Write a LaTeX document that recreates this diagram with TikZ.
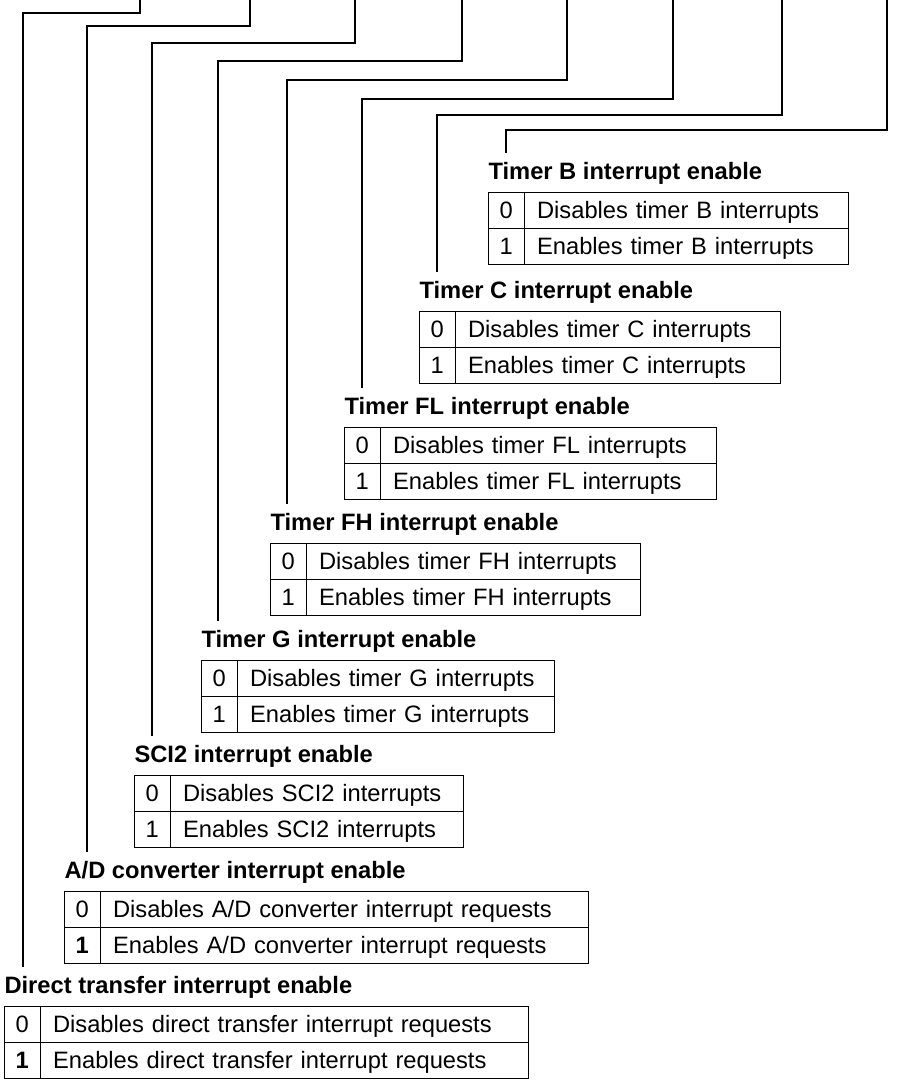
\documentclass[tikz,border=0pt]{standalone}
\usepackage{fontspec}
\setmainfont{Liberation Sans}
\usetikzlibrary{matrix,positioning}

\begin{document}
\begin{tikzpicture}[
    x=1pt, y=-1pt, line width=1.1pt,
    font=\fontsize{23.7pt}{28pt}\selectfont,
    bits/.style={matrix of nodes, anchor=north west, inner sep=0pt,
        column sep=-\pgflinewidth, row sep=-\pgflinewidth,
        nodes={draw, inner ysep=0pt, text height=17pt, text depth=0pt, minimum height=36pt},
        column 1/.style={nodes={minimum width=36pt, inner xsep=0pt}},
        column 2/.style={nodes={text width=#1, align=left, inner xsep=13pt}}},
    ttl/.style={font=\fontsize{23.7pt}{28pt}\selectfont\bfseries, anchor=base west, inner sep=0pt},
    lead/.style={line width=1.1pt}
]
    \useasboundingbox (0,0) rectangle (913,1082);

    % Bit tables
    \matrix (tB) [bits=298pt] at (487,191) {
        0 & Disables timer B interrupts \\
        1 & Enables timer B interrupts \\
    };
    \matrix (tC) [bits=299pt] at (418,310) {
        0 & Disables timer C interrupts \\
        1 & Enables timer C interrupts \\
    };
    \matrix (tFL) [bits=310pt] at (343,426) {
        0 & Disables timer FL interrupts \\
        1 & Enables timer FL interrupts \\
    };
    \matrix (tFH) [bits=308pt] at (269,542) {
        0 & Disables timer FH interrupts \\
        1 & Enables timer FH interrupts \\
    };
    \matrix (tG) [bits=291pt] at (200,659) {
        0 & Disables timer G interrupts \\
        1 & Enables timer G interrupts \\
    };
    \matrix (tSCI) [bits=267pt] at (133,774) {
        0 & Disables SCI2 interrupts \\
        1 & Enables SCI2 interrupts \\
    };
    \matrix (tAD) [bits=462pt] at (63,890) {
        0 & Disables A/D converter interrupt requests \\
        \textbf{1} & Enables A/D converter interrupt requests \\
    };
    \matrix (tDT) [bits=462pt] at (3,1005) {
        0 & Disables direct transfer interrupt requests \\
        \textbf{1} & Enables direct transfer interrupt requests \\
    };

    % Names
    \node[ttl] (hB) at ([shift={(1pt,12pt)}]tB.north west) {Timer B interrupt enable};
    \node[ttl] (hC) at ([shift={(1pt,12pt)}]tC.north west) {Timer C interrupt enable};
    \node[ttl] (hFL) at ([shift={(1pt,12pt)}]tFL.north west) {Timer FL interrupt enable};
    \node[ttl] (hFH) at ([shift={(1pt,12pt)}]tFH.north west) {Timer FH interrupt enable};
    \node[ttl] (hG) at ([shift={(1pt,12pt)}]tG.north west) {Timer G interrupt enable};
    \node[ttl] (hSCI) at ([shift={(1pt,12pt)}]tSCI.north west) {SCI2 interrupt enable};
    \node[ttl] (hAD) at ([shift={(1pt,12pt)}]tAD.north west) {A/D converter interrupt enable};
    \node[ttl] (hDT) at ([shift={(1pt,12pt)}]tDT.north west) {Direct transfer interrupt enable};

    % Bit leaders
    \coordinate (oB) at (887,0);   \coordinate (eB) at (506,153);
    \coordinate (oC) at (782,0);   \coordinate (eC) at (437,272);
    \coordinate (oFL) at (673,0);  \coordinate (eFL) at (362,388);
    \coordinate (oFH) at (567,0);  \coordinate (eFH) at (287,504);
    \coordinate (oG) at (462,0);   \coordinate (eG) at (218,621);
    \coordinate (oSCI) at (355,0); \coordinate (eSCI) at (152,736);
    \coordinate (oAD) at (250,0);  \coordinate (eAD) at (87,852);
    \coordinate (oDT) at (140,0);  \coordinate (eDT) at (23,967);

    \draw[lead] (oB) -- ++(0,130) -| (eB);
    \draw[lead] (oC) -- ++(0,115) -| (eC);
    \draw[lead] (oFL) -- ++(0,99) -| (eFL);
    \draw[lead] (oFH) -- ++(0,80) -| (eFH);
    \draw[lead] (oG) -- ++(0,61) -| (eG);
    \draw[lead] (oSCI) -- ++(0,43) -| (eSCI);
    \draw[lead] (oAD) -- ++(0,26) -| (eAD);
    \draw[lead] (oDT) -- ++(0,13) -| (eDT);
\end{tikzpicture}
\end{document}
